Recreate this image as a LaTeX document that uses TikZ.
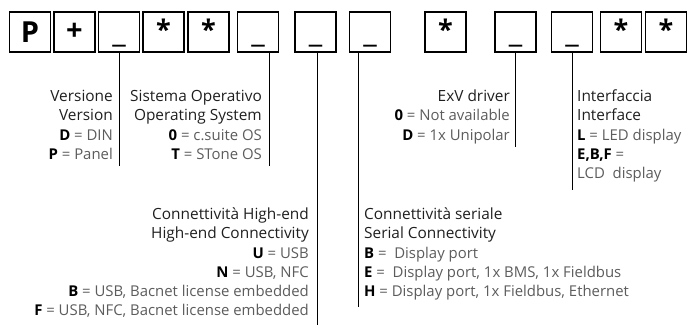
\documentclass[tikz,border=0pt]{standalone}
\usepackage{fontspec}
\setmainfont{Open Sans}
\usetikzlibrary{positioning,calc}
\definecolor{valgray}{gray}{0.36}
\definecolor{titlegray}{gray}{0.12}
\newcommand{\ttl}[1]{{\fontsize{15.4}{19.2}\selectfont\strut#1}}
\newcommand{\optval}[2]{\textbf{\color{black}#1}\ {\color{valgray}=\ #2}}
\newcommand{\blank}{\smash{\raisebox{-10.5pt}{\fontsize{30}{30}\selectfont\_}}}
\newcommand{\wild}{\raisebox{5pt}{*}}

\begin{document}
\begin{tikzpicture}[x=1pt, y=-1pt,
  cell/.style={draw, line width=1.6pt, minimum width=41pt, minimum height=40pt, inner sep=0pt},
  big/.style={font=\bfseries\fontsize{29}{29}\selectfont},
  starred/.style={font=\bfseries\fontsize{27}{27}\selectfont},
  lead/.style={line width=0.9pt},
  lbl/.style={inner sep=0pt, font=\fontsize{14.9}{19.2}\selectfont, text=titlegray}]
\useasboundingbox (0,0) rectangle (691,328);

% code cells
\node[cell, big] (c1) at (30,32) {P};
\node[cell, big] (c2) at (74.5,32) {+};
\node[cell] (c3) at (119,32) {\blank};
\node[cell, starred] (c4) at (163.5,32) {\wild};
\node[cell, starred] (c5) at (208.5,32) {\wild};
\node[cell] (c6) at (258,32) {\blank};
\node[cell] (c7) at (315.5,32) {\blank};
\node[cell] (c8) at (370,32) {\blank};
\node[cell, starred] (c9) at (445.5,32) {\wild};
\node[cell] (c10) at (515.5,32) {\blank};
\node[cell] (c11) at (572,32) {\blank};
\node[cell, starred] (c12) at (621,32) {\wild};
\node[cell, starred] (c13) at (666,32) {\wild};

% ends of the leads
\coordinate (ver) at (119,166);
\coordinate (os) at (269,166);
\coordinate (high) at (317,325);
\coordinate (ser) at (358,307);
\coordinate (exv) at (515.5,147);
\coordinate (intf) at (572,190);

\draw[lead] (c3.south -| ver) -- (ver);
\draw[lead] (c6.south -| os) -- (os);
\draw[lead] (c7.south -| high) -- (high);
\draw[lead] (c8.south -| ser) -- (ser);
\draw[lead] (c10.south -| exv) -- (exv);
\draw[lead] (c11.south -| intf) -- (intf);

% descriptions
\node[lbl, align=right, anchor=north east] (tver) at (113,88)
  {\ttl{Versione}\\\ttl{Version}\\\optval{D}{DIN}\\\optval{P}{Panel}};
\node[lbl, align=right, anchor=north east] (tos) at (262,88)
  {\ttl{Sistema Operativo}\\\ttl{Operating System}\\\optval{0}{c.suite OS}\\\optval{T}{STone OS}};
\node[lbl, align=right, anchor=north east] (texv) at (510,88)
  {\ttl{ExV driver}\\\optval{0}{Not available}\\\optval{D}{1x Unipolar}};
\node[lbl, align=left, anchor=north west] (tintf) at (577,88)
  {\ttl{Interfaccia}\\\ttl{Interface}\\\optval{L}{LED display}\\\optval{E,B,F}{}\\{\color{valgray}LCD~ display}};
\node[lbl, align=right, anchor=north east] (thigh) at (309,206)
  {\ttl{Connettività High-end}\\\ttl{High-end Connectivity}\\\optval{U}{USB}\\\optval{N}{USB, NFC}\\
   \optval{B}{USB, Bacnet license embedded}\\\optval{F}{USB, NFC, Bacnet license embedded}};
\node[lbl, align=left, anchor=north west] (tser) at (364,206)
  {\ttl{Connettività seriale}\\\ttl{Serial Connectivity}\\\optval{B}{~Display port}\\
   \optval{E}{~Display port, 1x BMS, 1x Fieldbus}\\\optval{H}{Display port, 1x Fieldbus, Ethernet}};
\end{tikzpicture}
\end{document}
